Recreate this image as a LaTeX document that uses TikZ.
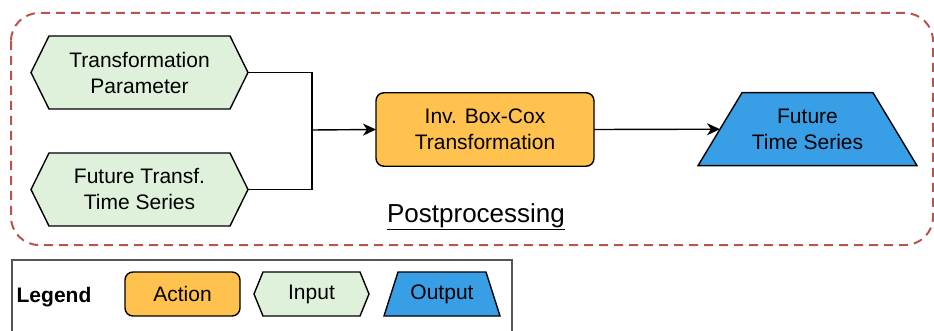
\documentclass[tikz,border=0pt]{standalone}
\usepackage{fontspec}
\setmainfont{Liberation Sans}
\usetikzlibrary{shapes.symbols,arrows.meta,backgrounds}
\definecolor{inputfill}{HTML}{DFF1DA}
\definecolor{actionfill}{HTML}{FFC24F}
\definecolor{outputfill}{HTML}{389FE6}
\definecolor{groupline}{HTML}{B85450}
\definecolor{legendline}{HTML}{555555}
\tikzset{
  txt/.style={font=\fontsize{21}{26}\selectfont, align=center, inner sep=0pt, outer sep=0pt},
  outline/.style={draw=black, line width=1.4pt},
  inputshape/.style={txt, outline, signal, signal to=west and east,
    fill=inputfill, minimum width=217pt, minimum height=73pt, signal pointer angle=127.5},
  actionshape/.style={txt, outline, rectangle, rounded corners=8pt,
    fill=actionfill, minimum width=218pt, minimum height=73.5pt},
  % text holder of an output trapezoid; its width is the trapezoid's width at mid height
  outputshape/.style={txt, rectangle, minimum width=175pt, minimum height=73pt},
  outputfill/.style={outline, fill=outputfill, line join=miter},
  link/.style={line width=1.4pt, draw=black},
  arrowlink/.style={link, -{Stealth[length=13pt,width=12pt,inset=4pt]}},
  group/.style={draw=groupline, line width=2pt, dash pattern=on 9pt off 6pt, rounded corners=28pt},
}
\begin{document}
\begin{tikzpicture}[x=1pt,y=-1pt]
  \useasboundingbox (0,0) rectangle (934,331);

  % group frame
  \draw[group] (11,13) rectangle (933,245);

  % inputs
  \node[inputshape] (param) at (139.5,72.5) {Transformation\\Parameter};
  \node[inputshape] (series) at (139.5,189.5) {Future Transf.\\Time Series};

  % action
  \node[actionshape] (boxcox) at (485,129.5) {Inv. Box-Cox\\Transformation};

  % output
  \node[outputshape] (future) at (807.5,129.2) {Future\\Time Series};

  % group label
  \node[inner sep=0pt, font=\fontsize{26}{30}\selectfont] (label) at (476,217) {\underline{Postprocessing}};

  % connectors
  \coordinate (join) at (312,130);
  \draw[link] (param.east) -| (join);
  \draw[link] (series.east) -| (join);
  \draw[arrowlink] (join) -- (boxcox.west);
  \draw[arrowlink] (boxcox.east) -- (future.west);

  % legend
  \draw[draw=legendline, line width=1.2pt] (12,260) rectangle (512,345);
  \node[inner sep=0pt, font=\fontsize{21}{26}\selectfont\bfseries] (legend) at (54,297) {Legend};
  \node[actionshape, minimum width=115pt, minimum height=44pt] (lact) at (182.5,294) {Action};
  \node[inputshape, minimum width=115pt, minimum height=44pt, signal pointer angle=135.6] (linp) at (311.5,294) {Input};
  \node[outputshape, minimum width=102pt, minimum height=44pt] (lout) at (442,294) {Output};

  % trapezoid outlines behind the output texts
  \begin{scope}[on background layer]
    \filldraw[outputfill] ([xshift=22pt]future.north west) -- ([xshift=-22pt]future.north east)
      -- ([xshift=22pt]future.south east) -- ([xshift=-22pt]future.south west) -- cycle;
    \filldraw[outputfill] ([xshift=7pt]lout.north west) -- ([xshift=-7pt]lout.north east)
      -- ([xshift=7pt]lout.south east) -- ([xshift=-7pt]lout.south west) -- cycle;
  \end{scope}
\end{tikzpicture}
\end{document}
